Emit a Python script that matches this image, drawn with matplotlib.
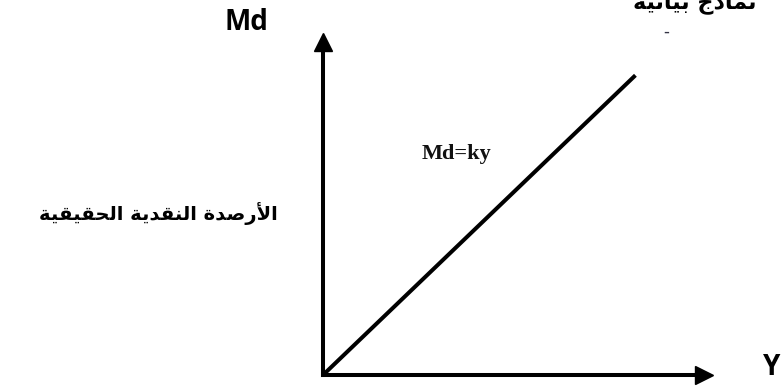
import matplotlib
matplotlib.use('Agg')
import matplotlib.pyplot as plt

# data: real money balances proportional to income  (Md = k*Y)
income = [0, 8.2]
real_balances = [0, 9.0]

x_label = 'Y'
y_label = 'Md'
line_label = 'Md=ky'
arabic_label = 'الأرصدة النقدية الحقيقية'
top_note = 'نماذج بيانية'

# matplotlib has no arabic shaping, so do it by hand with presentation forms
# letter: (isolated, final, initial, medial)
forms = {
    'ا': (0xFE8D, 0xFE8E, None, None),
    'أ': (0xFE83, 0xFE84, None, None),
    'ر': (0xFEAD, 0xFEAE, None, None),
    'د': (0xFEA9, 0xFEAA, None, None),
    'ذ': (0xFEAB, 0xFEAC, None, None),
    'ة': (0xFE93, 0xFE94, None, None),
    'ل': (0xFEDD, 0xFEDE, 0xFEDF, 0xFEE0),
    'ص': (0xFEB9, 0xFEBA, 0xFEBB, 0xFEBC),
    'ن': (0xFEE5, 0xFEE6, 0xFEE7, 0xFEE8),
    'ق': (0xFED5, 0xFED6, 0xFED7, 0xFED8),
    'ي': (0xFEF1, 0xFEF2, 0xFEF3, 0xFEF4),
    'ح': (0xFEA1, 0xFEA2, 0xFEA3, 0xFEA4),
    'م': (0xFEE1, 0xFEE2, 0xFEE3, 0xFEE4),
    'ج': (0xFE9D, 0xFE9E, 0xFE9F, 0xFEA0),
    'ب': (0xFE8F, 0xFE90, 0xFE91, 0xFE92),
}
lam_alef = {'ا': (0xFEFB, 0xFEFC), 'أ': (0xFEF7, 0xFEF8)}


def shape(text):
    out = []
    i = 0
    n = len(text)
    while i < n:
        c = text[i]
        if c not in forms:
            out.append(c)
            i += 1
            continue
        prev = text[i - 1] if i > 0 else ' '
        joins_prev = prev in forms and forms[prev][2] is not None
        if c == 'ل' and i + 1 < n and text[i + 1] in lam_alef:
            iso, fin = lam_alef[text[i + 1]]
            out.append(chr(fin if joins_prev else iso))
            i += 2
            continue
        nxt = text[i + 1] if i + 1 < n else ' '
        joins_next = nxt in forms and forms[c][2] is not None
        iso, fin, ini, med = forms[c]
        if joins_prev and joins_next:
            code = med
        elif joins_prev:
            code = fin
        elif joins_next:
            code = ini
        else:
            code = iso
        out.append(chr(code))
        i += 1
    return ''.join(out)[::-1]


arabic_font = ['DejaVu Sans Condensed', 'DejaVu Sans']

fig = plt.figure(figsize=(7.81, 3.86), dpi=100)
ax = fig.add_axes([0.4136, 0.0285, 0.4878, 0.8627])

ax.plot(income, real_balances, color='black', lw=2.9, solid_capstyle='butt', clip_on=False)
ax.set_xlim(0, 10)
ax.set_ylim(0, 10)

for s in ['top', 'right']:
    ax.spines[s].set_visible(False)
for s in ['left', 'bottom']:
    ax.spines[s].set_linewidth(2.9)
    ax.spines[s].set_capstyle('projecting')
ax.set_xticks([])
ax.set_yticks([])

# arrow heads
ax.plot(1, 0, '>k', ms=13, transform=ax.get_yaxis_transform(), clip_on=False)
ax.plot(0, 1, '^k', ms=13, transform=ax.get_xaxis_transform(), clip_on=False)

fig.text(0.316, 0.943, y_label, fontsize=20, fontweight='bold', family='Open Sans',
         ha='center', va='center')
fig.text(0.977, 0.049, x_label, fontsize=20, fontweight='bold', family='Open Sans',
         ha='left', va='center')
fig.text(0.585, 0.6, line_label, fontsize=16, fontweight='bold', family='Liberation Serif',
         ha='center', va='center', color='#111111')
fig.text(0.356, 0.448, shape(arabic_label), fontsize=14, fontweight='bold', family=arabic_font,
         ha='right', va='center')
fig.text(0.969, 0.979, shape(top_note), fontsize=16, fontweight='bold', family=arabic_font,
         ha='right', va='baseline')
fig.text(0.853, 0.917, '-', fontsize=12, color='#333344', ha='center', va='center')

fig.savefig('out.png', dpi=100)
